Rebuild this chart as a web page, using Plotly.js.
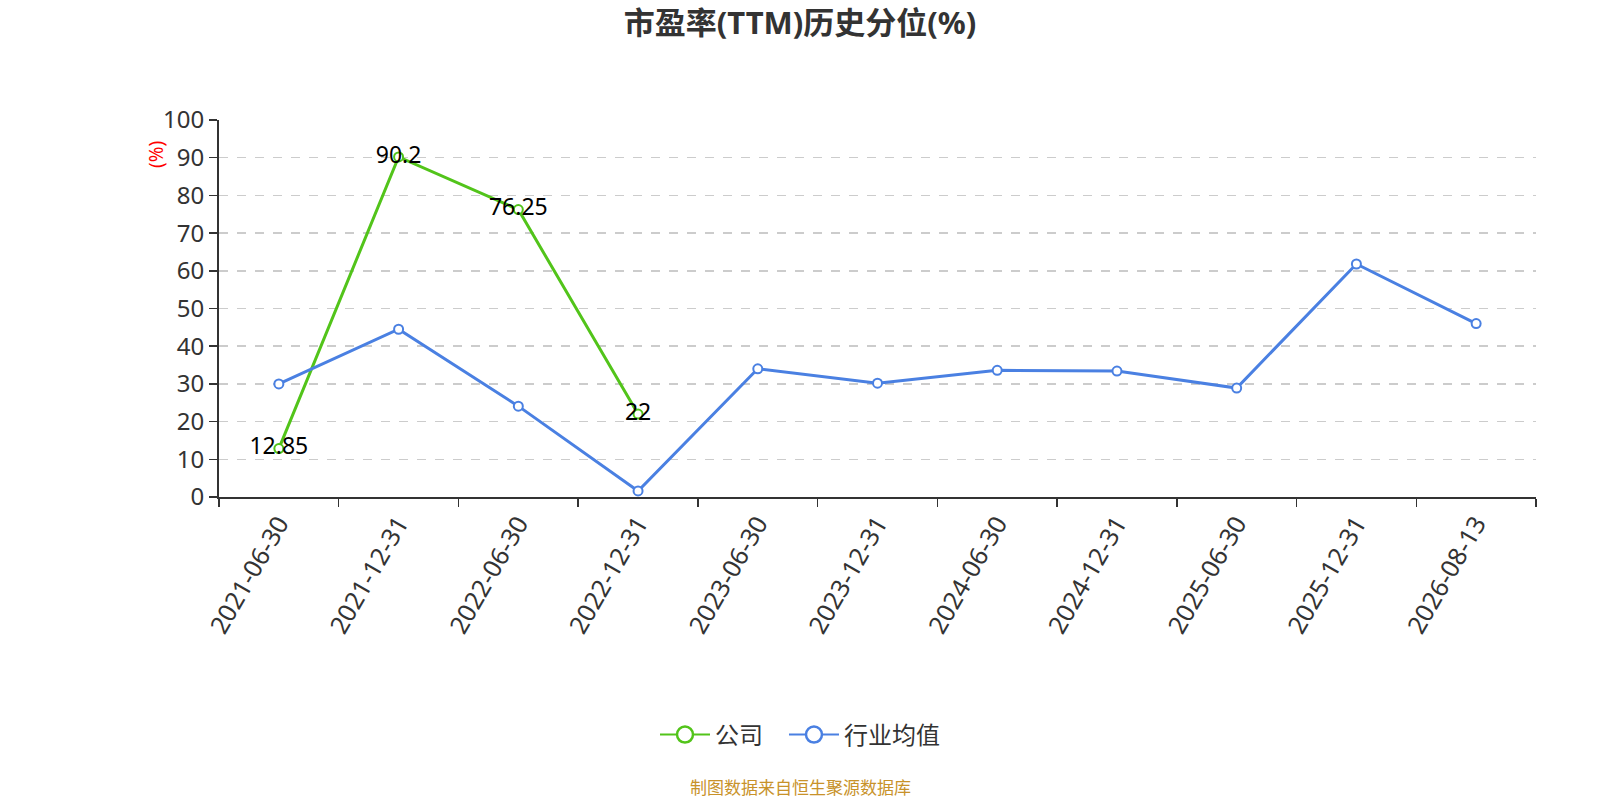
<!DOCTYPE html>
<html>
<head>
<meta charset="utf-8">
<script src="https://cdn.plot.ly/plotly-3.0.1.min.js"></script>
<style>html,body{margin:0;padding:0;background:#fff;}#chart{width:1600px;height:800px;}</style>
</head>
<body>
<div id="chart"></div>
<script>
var categories = ["2021-06-30","2021-12-31","2022-06-30","2022-12-31","2023-06-30","2023-12-31","2024-06-30","2024-12-31","2025-06-30","2025-12-31","2026-08-13"];
var companyValues = [12.85, 90.2, 76.25, 22, null, null, null, null, null, null, null];
var industryValues = [30.0, 44.5, 24.1, 1.6, 34.0, 30.2, 33.6, 33.4, 28.9, 61.8, 46.0];
var yTicks = [0,10,20,30,40,50,60,70,80,90,100];
var seriesNames = ["公司", "行业均值"];

var FONT = '"Noto Sans", "Noto Sans CJK SC", sans-serif';
var green = "#52c41a";
var blue = "#4a80e2";

var companyText = companyValues.map(function(v){ return v === null ? "" : String(v); });

var traces = [
  {
    x: categories, y: companyValues, name: seriesNames[0], type: "scatter",
    mode: "lines+markers+text", text: companyText, textposition: "middle center",
    textfont: {family: FONT, size: 23, color: "#000"},
    line: {color: green, width: 3},
    marker: {symbol: "circle", size: 9, color: "#fff", line: {color: green, width: 2}},
    connectgaps: false, cliponaxis: false, showlegend: false, hoverinfo: "x+y"
  },
  {
    x: categories, y: industryValues, name: seriesNames[1], type: "scatter",
    mode: "lines+markers",
    line: {color: blue, width: 3},
    marker: {symbol: "circle", size: 9, color: "#fff", line: {color: blue, width: 2}},
    cliponaxis: false, showlegend: false, hoverinfo: "x+y"
  },
  {
    x: [categories[0]], y: [null], name: seriesNames[0] + "\u2002\u2009", type: "scatter", mode: "lines+markers",
    line: {color: green, width: 2},
    marker: {symbol: "circle", size: 20, color: "#fff", line: {color: green, width: 2.5}},
    showlegend: true, hoverinfo: "skip"
  },
  {
    x: [categories[0]], y: [null], name: seriesNames[1], type: "scatter", mode: "lines+markers",
    line: {color: blue, width: 2},
    marker: {symbol: "circle", size: 20, color: "#fff", line: {color: blue, width: 2.5}},
    showlegend: true, hoverinfo: "skip"
  }
];

var L = 219, R = 1536, T = 120, B = 497;
var PW = R - L, PH = B - T;
function px(xp){ return (xp - L) / PW; }
function py(yp){ return (B - yp) / PH; }

var layout = {
  width: 1600, height: 800,
  paper_bgcolor: "#fff", plot_bgcolor: "#fff",
  margin: {l: L, r: 1600 - R, t: T, b: 800 - B},
  font: {family: FONT, color: "#333"},
  title: {text: "<b>市盈率(TTM)历史分位(%)</b>", x: 0.5, xanchor: "center", y: 1 - 23/800, yanchor: "middle", yref: "container",
          font: {family: FONT, size: 31, color: "#333"}},
  showlegend: true,
  legend: {orientation: "h", x: px(800), xanchor: "center", y: py(735), yanchor: "middle",
           font: {family: FONT, size: 24, color: "#333"}, traceorder: "normal", itemsizing: "trace",
           itemwidth: 50},
  xaxis: {
    type: "category", range: [-0.5, 10.5], tickson: "boundaries",
    showline: true, linecolor: "#333", linewidth: 2,
    ticks: "outside", ticklen: 8, tickcolor: "#333", tickwidth: 1.5,
    tickangle: -60, tickfont: {family: FONT, size: 25, color: "#333"},
    showgrid: false, zeroline: false, fixedrange: true
  },
  yaxis: {
    range: [0, 100], tickvals: yTicks, ticktext: yTicks.map(String),
    showline: true, linecolor: "#333", linewidth: 2,
    ticks: "outside", ticklen: 8, tickcolor: "#333", tickwidth: 1.5,
    tickfont: {family: FONT, size: 24, color: "#333"},
    showgrid: true, gridcolor: "#cccccc", griddash: "dash", gridwidth: 1.5,
    zeroline: false, fixedrange: true
  },
  annotations: [
    {text: "(%)", xref: "paper", yref: "paper", x: px(156), y: py(155), showarrow: false, textangle: -90,
     font: {family: FONT, size: 19, color: "#ff0000"}, xanchor: "center", yanchor: "middle"},
    {text: "制图数据来自恒生聚源数据库", xref: "paper", yref: "paper", x: px(800), y: py(786),
     showarrow: false, font: {family: '"Noto Sans CJK SC", sans-serif', size: 17, color: "#c8922a"}, xanchor: "center", yanchor: "middle"}
  ]
};

Plotly.newPlot("chart", traces, layout, {displayModeBar: false, staticPlot: true});
</script>
</body>
</html>
